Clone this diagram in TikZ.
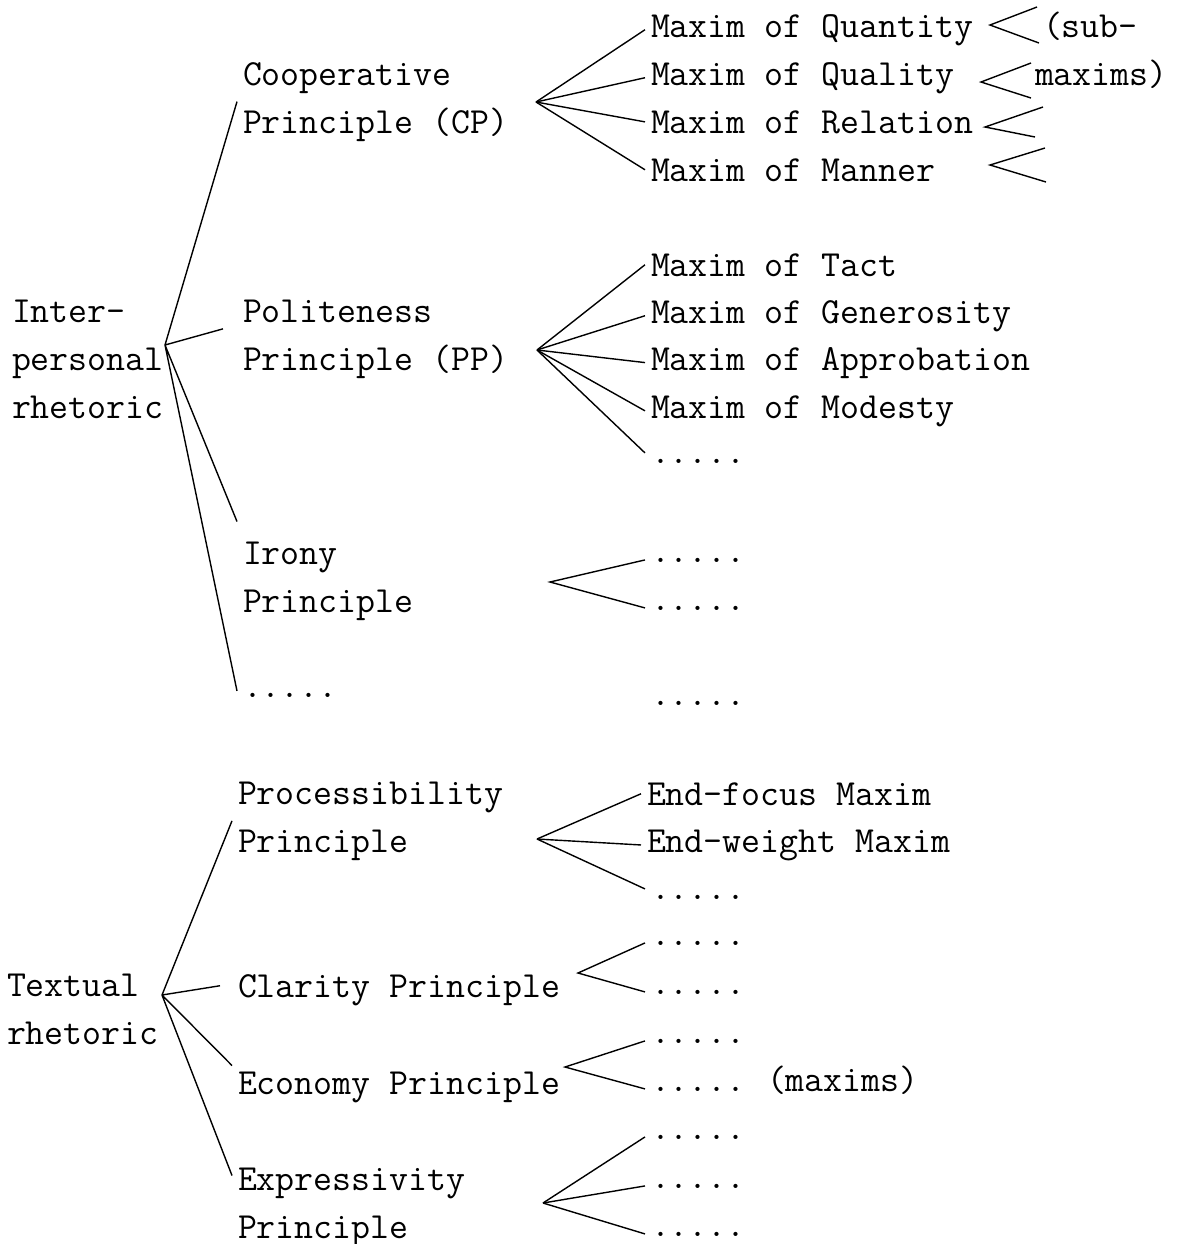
\documentclass[tikz,border=0pt]{standalone}
\usepackage{fontspec}

\begin{document}
\begin{tikzpicture}[
		x=0.5pt, y=-0.5pt,
		every node/.style = {
			anchor=base west,
			align=left,
			inner sep=0pt,
			outer sep=3pt,
			font=\ttfamily\fontsize{18.4}{24}\selectfont
		},
		branch/.style = {
			draw,
			line width=0.7pt
		}
		]
	\useasboundingbox (0,0) rectangle (1182,1244);

	% interpersonal rhetoric
	\node (inter) at (6,418) {Inter-\\personal\\rhetoric};
	\node (cp) at (237,133) {Cooperative\\Principle (CP)};
	\node (pp) at (237,370) {Politeness\\Principle (PP)};
	\node (irony) at (237,612) {Irony\\Principle};
	\node (ipdots) at (237,697) {.....};

	\node (qty) at (645,37) {Maxim of Quantity};
	\node (qlt) at (645,85) {Maxim of Quality};
	\node (rel) at (645,133) {Maxim of Relation};
	\node (man) at (645,181) {Maxim of Manner};
	\node (sub) at (1037,37) {(sub-};
	\node (submax) at (1029,85) {maxims)};

	\node (tact) at (645,276) {Maxim of Tact};
	\node (gen) at (645,323) {Maxim of Generosity};
	\node (appr) at (645,370) {Maxim of Approbation};
	\node (mod) at (645,418) {Maxim of Modesty};
	\node (ppdots) at (645,463) {.....};

	\node (irdotsa) at (645,562) {.....};
	\node (irdotsb) at (645,610) {.....};
	\node (moredots) at (645,705) {.....};

	% textual rhetoric
	\node (textual) at (1,1044) {Textual\\rhetoric};
	\node (proc) at (232,852) {Processibility\\Principle};
	\node (clar) at (232,997) {Clarity Principle};
	\node (econ) at (232,1094) {Economy Principle};
	\node (expr) at (232,1238) {Expressivity\\Principle};

	\node (focus) at (641,805) {End-focus Maxim};
	\node (weight) at (641,852) {End-weight Maxim};
	\node (prdots) at (645,899) {.....};
	\node (cldotsa) at (645,945) {.....};
	\node (cldotsb) at (645,994) {.....};
	\node (ecdotsa) at (645,1043) {.....};
	\node (ecdotsb) at (645,1091) {.....};
	\node (maxims) at (761,1091) {(maxims)};
	\node (exdotsa) at (645,1139) {.....};
	\node (exdotsb) at (645,1188) {.....};
	\node (exdotsc) at (645,1236) {.....};

	% forks
	\coordinate (ipfork) at (165,345);
	\coordinate (cpfork) at (536,102);
	\coordinate (ppfork) at (537,350);
	\coordinate (irfork) at (550,582);
	\coordinate (trfork) at (162,995);
	\coordinate (prfork) at (537,839);
	\coordinate (clfork) at (578,973);
	\coordinate (ecfork) at (565,1067);
	\coordinate (exfork) at (543,1203);

	% sub-maxim forks
	\coordinate (qtyfork) at (990,25);
	\coordinate (qtyup) at (1037,7);
	\coordinate (qtydn) at (1039,43);
	\coordinate (qltfork) at (981,82);
	\coordinate (qltup) at (1031,63);
	\coordinate (qltdn) at (1031,98);
	\coordinate (relfork) at (985,127);
	\coordinate (relup) at (1043,107);
	\coordinate (reldn) at (1035,137);
	\coordinate (manfork) at (990,165);
	\coordinate (manup) at (1045,148);
	\coordinate (mandn) at (1046,182);

	\draw[branch] (ipfork) -- (cp.west)
		(ipfork) -- ([xshift=-7pt,yshift=5pt]pp.west)
		(ipfork) -- ([yshift=7pt]irony.north west)
		(ipfork) -- ([yshift=2pt]ipdots.west);
	\foreach \m in {qty,qlt,rel,man}
		\draw[branch] (cpfork) -- (\m.west);
	\foreach \m in {tact,gen,appr,mod}
		\draw[branch] (ppfork) -- (\m.west);
	\draw[branch] (ppfork) -- ([yshift=4pt]ppdots.west);
	\draw[branch] (irdotsa.west) -- (irfork) -- (irdotsb.west);
	\foreach \f in {qty,qlt,rel,man}
		\draw[branch] (\f up) -- (\f fork) -- (\f dn);

	\draw[branch] (trfork) -- (proc.west)
		(trfork) -- ([xshift=-6pt,yshift=2pt]clar.west)
		(trfork) -- (econ.north west)
		(trfork) -- ([yshift=-7pt]expr.north west);
	\foreach \m in {focus,weight}
		\draw[branch] (prfork) -- (\m.west);
	\draw[branch] (prfork) -- ([yshift=4pt]prdots.west);
	\draw[branch] (cldotsa.west) -- (clfork) -- (cldotsb.west);
	\draw[branch] (ecdotsa.west) -- (ecfork) -- (ecdotsb.west);
	\foreach \m in {exdotsa,exdotsb,exdotsc}
		\draw[branch] (exfork) -- (\m.west);
\end{tikzpicture}
\end{document}
